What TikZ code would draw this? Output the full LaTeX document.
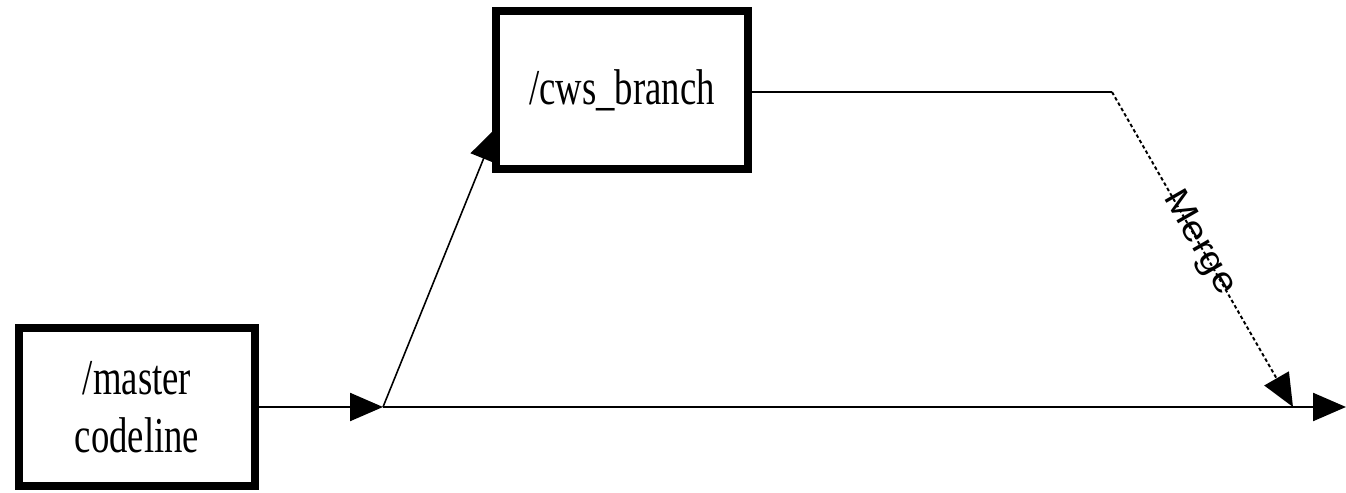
\documentclass[tikz,border=0pt]{standalone}
\usepackage{fontspec}
\setmainfont{Liberation Serif}
\setsansfont{Liberation Sans}
\usetikzlibrary{arrows.meta, positioning}
\newcommand\tallText[1]{\scalebox{0.95}[1.3]{#1}}

\begin{document}
\begin{tikzpicture}[x=0.02cm,y=-0.02cm,
    box/.style={draw,line width=0.16cm,align=center,inner sep=0pt,minimum height=3.18cm,
        font=\fontsize{22}{33}\selectfont},
    flow/.style={line width=1.3pt,-{Triangle[length=0.66cm,width=0.56cm]}}]
\useasboundingbox (0,0) rectangle (1346,493);
\node (master) [box,minimum width=4.74cm] at (137,407) {\tallText{/master}\\\tallText{codeline}};
\node (branch) [box,minimum width=5.04cm] at (622,90) {\tallText{/cws\_branch}};
\coordinate (split) at (383,407);
\coordinate (tip) at (496,128);
\coordinate (turn) at (1112,92);
\coordinate (join) at (1293,407);
\coordinate (end) at (1346,407);
\draw[flow] (master) -- (split);
\draw[flow,line width=0.9pt] (split) -- (tip);
\draw[flow] (split) -- (end);
\draw[line width=1.1pt] (branch.east |- turn) -- (turn);
\draw[flow,line width=1.1pt,dash pattern=on 2pt off 1.5pt] (turn) -- node[sloped,pos=0.48,font=\sffamily\fontsize{23}{23}\selectfont] {\scalebox{1}[0.85]{Merge}} (join);
\end{tikzpicture}
\end{document}
